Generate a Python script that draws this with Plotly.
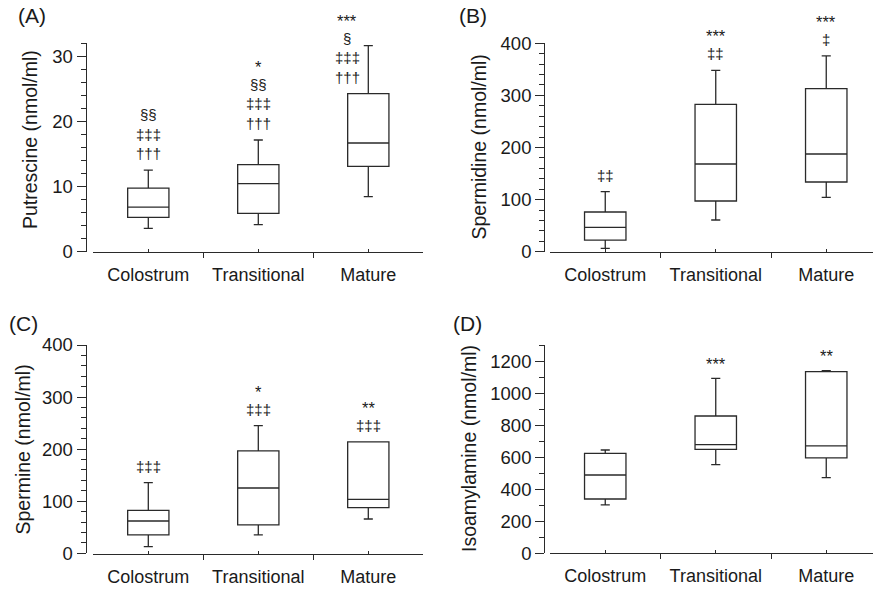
import plotly.graph_objects as go

W, H = 873, 589
FONT = "Liberation Sans, Arial, sans-serif"
INK = "#1a1a1a"
LINE = "#2a2a2a"

categories = ["Colostrum", "Transitional", "Mature"]

# Panel A - Putrescine (nmol/ml)
put_low = [3.6, 4.15, 8.46]
put_q1 = [5.28, 5.9, 13.13]
put_med = [6.87, 10.46, 16.72]
put_q3 = [9.79, 13.38, 24.3]
put_high = [12.56, 17.18, 31.7]
put_sig = [["§§", "‡‡‡", "†††"], ["*", "§§", "‡‡‡", "†††"], ["***", "§", "‡‡‡", "†††"]]

# Panel B - Spermidine (nmol/ml)
spd_low = [6.4, 60.8, 104.3]
spd_q1 = [22.4, 97.3, 133.8]
spd_med = [46.7, 168.3, 187.5]
spd_q3 = [76.2, 282.9, 313.0]
spd_high = [115.2, 348.2, 375.7]
spd_sig = [["‡‡"], ["***", "‡‡"], ["***", "‡"]]

# Panel C - Spermine (nmol/ml)
spm_low = [12.8, 35.2, 65.9]
spm_q1 = [35.2, 54.4, 87.7]
spm_med = [62.0, 125.4, 103.7]
spm_q3 = [82.6, 196.5, 213.8]
spm_high = [135.7, 245.0, 210.6]
spm_sig = [["‡‡‡"], ["*", "‡‡‡"], ["**", "‡‡‡"]]

# Panel D - Isoamylamine (nmol/ml)
iso_low = [301.6, 553.0, 472.0]
iso_q1 = [339.0, 649.0, 595.0]
iso_med = [488.8, 678.0, 670.0]
iso_q3 = [624.0, 857.0, 1133.6]
iso_high = [644.8, 1092.0, 1140.0]
iso_sig = [[], ["***"], ["**"]]

panels = [
    dict(letter="(A)", title="Putrescine (nmol/ml)",
         low=put_low, q1=put_q1, med=put_med, q3=put_q3, high=put_high, sig=put_sig,
         xdom=(93.3, 423.3), xend=2.5, xline=252.3, yline=85.7,
         ybot=251.7, ytop=43.3, ymax=32.05, dtick=10, minor=2,
         letter_pos=(16, 15), title_pos=(30, 140)),
    dict(letter="(B)", title="Spermidine (nmol/ml)",
         low=spd_low, q1=spd_q1, med=spd_med, q3=spd_q3, high=spd_high, sig=spd_sig,
         xdom=(550.0, 873.0), xend=2.5 - 8.5 / 110.5, xline=252.3, yline=544.3,
         ybot=251.7, ytop=43.3, ymax=400, dtick=100, minor=20,
         letter_pos=(457, 15), title_pos=(478, 147.5)),
    dict(letter="(C)", title="Spermine (nmol/ml)",
         low=spm_low, q1=spm_q1, med=spm_med, q3=spm_q3, high=spm_high, sig=spm_sig,
         xdom=(93.3, 423.3), xend=2.5, xline=554.0, yline=85.7,
         ybot=553.3, ytop=345.0, ymax=400, dtick=100, minor=20,
         letter_pos=(7, 323), title_pos=(22.5, 450)),
    dict(letter="(D)", title="Isoamylamine (nmol/ml)",
         low=iso_low, q1=iso_q1, med=iso_med, q3=iso_q3, high=iso_high, sig=iso_sig,
         xdom=(550.0, 873.0), xend=2.5 - 8.5 / 110.5, xline=553.3, yline=544.3,
         ybot=553.3, ytop=345.0, ymax=1300, dtick=200, minor=100,
         letter_pos=(451, 323), title_pos=(469, 449)),
]

# special placement of a label stack (panel index, category index)
label_override = {(0, 2): dict(anchor="q3", xshift=-21)}
ROW_GAP = 16.5     # px from anchor to centre of the lowest row
ROW_STEP = 19.5    # px between symbol rows
STAR_STEP = 17.5   # px from the row below to an asterisk row

fig = go.Figure()
annotations = []
layout = dict(
    width=W, height=H, margin=dict(l=0, r=0, t=0, b=0, autoexpand=False),
    paper_bgcolor="white", plot_bgcolor="white", showlegend=False,
    font=dict(family=FONT, color=INK, size=18),
)

xs = list(range(len(categories)))
for i, p in enumerate(panels):
    n = "" if i == 0 else str(i + 1)
    xa, ya = "x" + n, "y" + n
    fig.add_trace(go.Box(
        x=xs, q1=p["q1"], median=p["med"], q3=p["q3"],
        lowerfence=p["low"], upperfence=p["high"],
        width=0.375, whiskerwidth=0.22, boxpoints=False,
        fillcolor="white", line=dict(color=LINE, width=1.3),
        xaxis=xa, yaxis=ya, hoverinfo="skip",
    ))
    layout["xaxis" + n] = dict(
        domain=[p["xdom"][0] / W, p["xdom"][1] / W],
        range=[-0.5, p["xend"]], anchor="free",
        position=1 - p["xline"] / H, automargin=False,
        tickmode="array", tickvals=xs, ticktext=categories,
        ticks="inside", ticklen=3, tickwidth=1.2, tickcolor=LINE,
        ticklabelstandoff=6,
        tickfont=dict(size=18, color=INK, family=FONT),
        minor=dict(tickmode="array", tickvals=[-0.5, 0.5, 1.5, 2.5],
                   ticks="outside", ticklen=5, tickwidth=1.2, tickcolor=LINE),
        showline=True, linecolor=LINE, linewidth=1.3,
        showgrid=False, zeroline=False, fixedrange=True,
    )
    layout["yaxis" + n] = dict(
        domain=[1 - p["ybot"] / H, 1 - p["ytop"] / H],
        range=[0, p["ymax"]], anchor="free",
        position=p["yline"] / W, automargin=False,
        tickmode="linear", tick0=0, dtick=p["dtick"],
        ticks="outside", ticklen=9, tickwidth=1.2, tickcolor=LINE,
        tickfont=dict(size=18.5, color=INK, family=FONT),
        minor=dict(tickmode="linear", tick0=0, dtick=p["minor"],
                   ticks="outside", ticklen=5, tickwidth=1.2, tickcolor=LINE),
        showline=True, linecolor=LINE, linewidth=1.3,
        showgrid=False, zeroline=False, fixedrange=True,
    )
    # y-axis title
    annotations.append(dict(
        text=p["title"], xref="paper", yref="paper", textangle=-90,
        x=p["title_pos"][0] / W, y=1 - p["title_pos"][1] / H,
        xanchor="center", yanchor="middle", showarrow=False,
        font=dict(size=19.5, color=INK, family=FONT),
    ))
    # panel letter
    annotations.append(dict(
        text=p["letter"], xref="paper", yref="paper",
        x=p["letter_pos"][0] / W, y=1 - p["letter_pos"][1] / H,
        xanchor="left", yanchor="middle", showarrow=False,
        font=dict(size=21, color=INK, family=FONT),
    ))
    # significance symbols stacked above each box
    for j, rows in enumerate(p["sig"]):
        if not rows:
            continue
        ov = label_override.get((i, j), {})
        if ov.get("anchor") == "q3":
            yv = p["q3"][j]
        else:
            yv = max(p["q3"][j], p["high"][j])
        shift = ROW_GAP
        for k, row in enumerate(reversed(rows)):
            is_star = set(row) == {"*"}
            if k > 0:
                shift += STAR_STEP if is_star else ROW_STEP
            annotations.append(dict(
                text=row, xref=xa, yref=ya, x=xs[j], y=yv,
                xanchor="center", yanchor="middle", showarrow=False,
                xshift=ov.get("xshift", 0), yshift=shift - (2 if (is_star and k == 0) else 0),
                font=dict(size=16.5 if is_star else 15, color=INK, family=FONT),
            ))

layout["annotations"] = annotations
fig.update_layout(**layout)
fig.write_html("out.html")
